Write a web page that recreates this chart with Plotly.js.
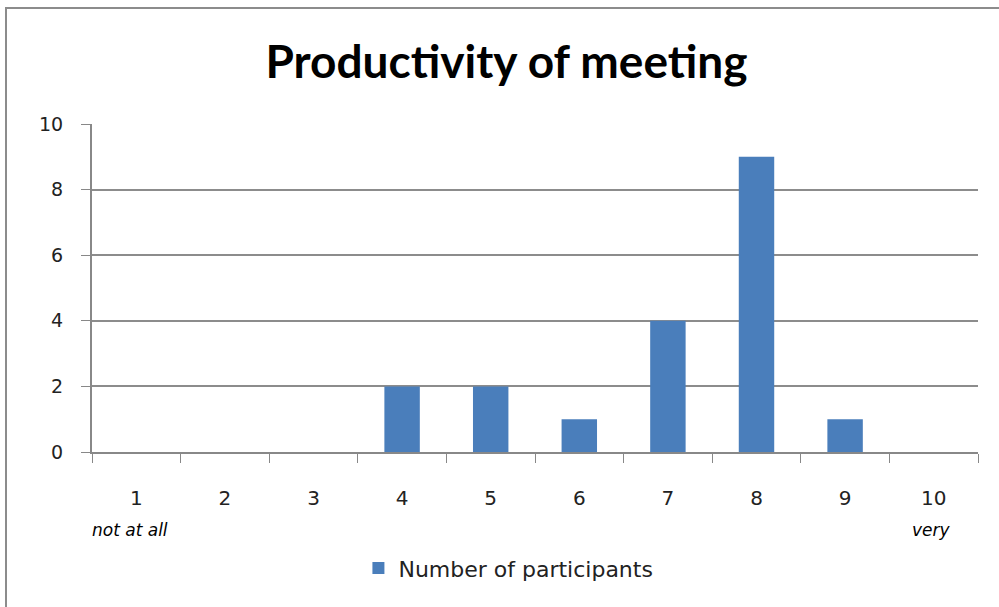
<!DOCTYPE html>
<html><head><meta charset="utf-8">
<script src="https://cdn.plot.ly/plotly-3.0.1.min.js"></script>
<style>
html,body{margin:0;padding:0;background:#fff;overflow:hidden}
#frame{position:absolute;left:5px;top:7px;width:1100px;height:700px;border:2px solid #8c8c8c;box-sizing:border-box}
#chart{position:absolute;left:0;top:0;width:999px;height:607px}
</style></head><body>
<div id="frame"></div>
<div id="chart"></div>
<script>
var categories = ['1','2','3','4','5','6','7','8','9','10'];
var participants = [0,0,0,2,2,1,4,9,1,0];
var scaleNotes = [{cat:'1', text:'not at all'}, {cat:'10', text:'very'}];
var yTicks = [0,2,4,6,8,10];

var trace = {
  type:'bar', x:categories, y:participants, name:'Number of participants',
  marker:{color:'#4a7ebb'}
};
var ann = scaleNotes.map(function(n){
  return {x:categories.indexOf(n.cat), xref:'x', y:-0.238, yref:'paper', yanchor:'middle', xanchor:'center',
    text:'<i>'+n.text+'</i>', showarrow:false,
    xshift: n.cat==='1' ? -6 : -2,
    font:{family:'DejaVu Sans', size:17, color:'#000'}};
});
var layout = {
  width:999, height:607,
  margin:{l:92, r:21, t:124, b:155},
  paper_bgcolor:'rgba(0,0,0,0)', plot_bgcolor:'rgba(0,0,0,0)',
  title:{text:'<b>Productivity of meeting</b>', x:0.507, xanchor:'center', y:0.898, yanchor:'middle',
    font:{family:'Lato', size:46, color:'#000'}},
  bargap:0.6,
  showlegend:true,
  legend:{orientation:'h', x:0.47, xanchor:'center', y:-0.354, yanchor:'middle', itemwidth:30,
    font:{family:'DejaVu Sans', size:22, color:'#222'}},
  xaxis:{type:'category', range:[-0.5, categories.length-0.5], tickson:'boundaries', ticks:'outside', ticklen:9, tickcolor:'#888',
    showline:true, linecolor:'#888', linewidth:2, showgrid:false,
    ticklabelstandoff:27,
    tickfont:{family:'DejaVu Sans', size:20, color:'#222'}},
  yaxis:{range:[0,10], tickvals:yTicks, ticks:'outside', ticklen:9, tickcolor:'#888',
    showline:true, linecolor:'#888', linewidth:2, gridcolor:'#8c8c8c', gridwidth:1.5,
    zeroline:false, ticklabelstandoff:14,
    tickfont:{family:'DejaVu Sans', size:19, color:'#222'}},
  annotations:ann
};
Plotly.newPlot('chart',[trace],layout,{displayModeBar:false});
</script></body></html>
